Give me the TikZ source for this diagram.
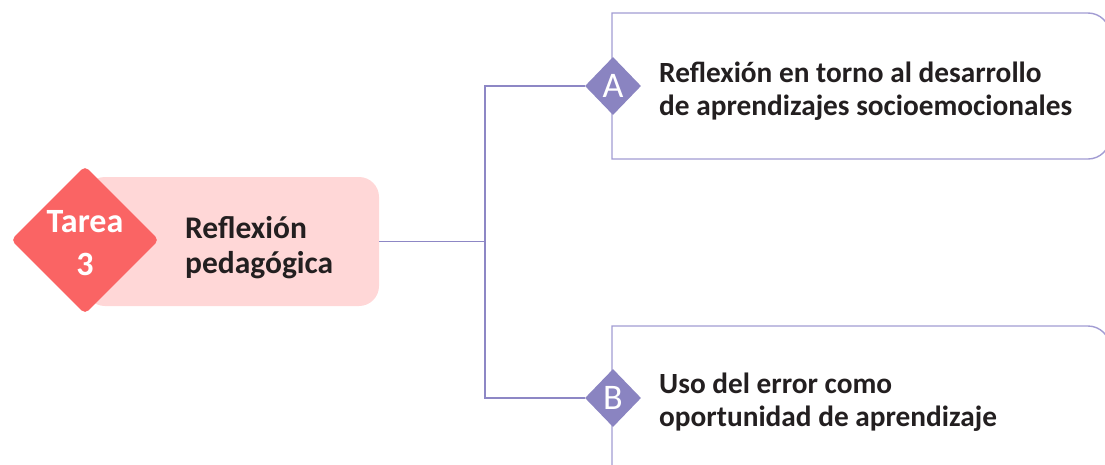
\documentclass[tikz,border=0pt]{standalone}
\usepackage{fontspec}
\setmainfont{Carlito}
\usetikzlibrary{shapes.geometric}
\definecolor{redd}{HTML}{FA6464}
\definecolor{pinkb}{HTML}{FFD7D7}
\definecolor{purd}{HTML}{8A84C1}
\definecolor{line}{HTML}{8D87C5}
\definecolor{boxl}{HTML}{A29CD3}
\definecolor{txt}{HTML}{231F20}
\tikzset{
  conn/.style={draw=line, line width=1.3pt},
  boxline/.style={draw=boxl, line width=1.4pt, fill=white},
  letterdia/.style={diamond, fill=purd, inner sep=0pt, minimum width=56pt, minimum height=58pt, text=white, font=\fontsize{36}{36}\selectfont},
  maintxt/.style={anchor=west, align=left, text=txt, inner sep=0pt, font=\bfseries\fontsize{29.3}{33}\selectfont},
}
\begin{document}
\begin{tikzpicture}[x=1pt,y=-1pt]
\useasboundingbox (0,0) rectangle (1105,464);
% pink box
\node (pink) [fill=pinkb, rounded corners=20pt, minimum width=294pt, minimum height=129pt, inner sep=0pt] at (232,241.5) {};
\node (tarea) [diamond, fill=redd, rounded corners=5pt, minimum width=148pt, minimum height=148pt, inner sep=0pt] at (85,240) {};
\node (tareatxt) [inner sep=0pt, text=white, align=center, font=\bfseries\fontsize{34}{43}\selectfont] at (85,243) {Tarea\\3};
\node (reflex) [anchor=west, align=left, text=txt, inner sep=0pt, font=\bfseries\fontsize{31.5}{35}\selectfont] at (185,248) {Reflexión\\pedagógica};
% boxes
\draw[boxline] (800,13) [rounded corners=22pt] -- (1110,13) -- (1110,159) -- (800,159) [sharp corners] -- (612,159) -- (612,13) -- cycle;
\draw[boxline] (800,326) [rounded corners=22pt] -- (1110,326) -- (1110,480) -- (800,480) [sharp corners] -- (612,480) -- (612,326) -- cycle;
\node (dA) [letterdia] at (613,86) {A};
\node (dB) [letterdia] at (613,398) {B};
\node (tA) [maintxt] at (659,91) {Reflexión en torno al desarrollo\\de aprendizajes socioemocionales};
\node (tB) [maintxt] at (659,402) {Uso del error como\\oportunidad de aprendizaje};
% connectors
\coordinate (j) at (485,241.5);
\draw[conn] (pink.east) -- (j);
\draw[conn] (j) |- (dA.west);
\draw[conn] (j) |- (dB.west);
\end{tikzpicture}
\end{document}
